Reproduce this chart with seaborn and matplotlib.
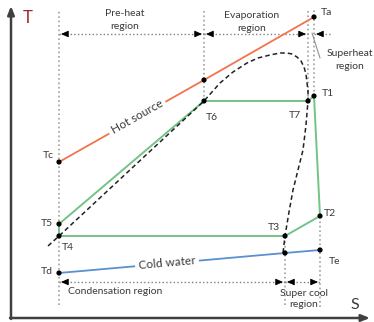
import matplotlib
matplotlib.use("Agg")
import matplotlib.pyplot as plt
import seaborn as sns

# T-s diagram, units are just drawing units (S right, T up)
hot_S = [59, 204, 314]
hot_T = [160, 242, 305]

cycle_S = [59, 59, 204, 308, 314, 320, 285, 59]
cycle_T = [86, 98, 221, 221, 226, 106, 86, 86]

cold_S = [59, 285, 320]
cold_T = [49, 69, 72]

dome_S = [48, 59, 204, 212, 220, 233, 247, 258, 270, 280, 287, 292, 297, 301, 304,
          306, 307, 308, 308, 306, 303, 298, 293, 289, 285, 283]
dome_T = [76, 86, 221, 230, 239, 250, 259, 264, 267, 269, 269, 268, 265, 261, 255,
          248, 239, 232, 221, 197, 172, 152, 132, 110, 86, 69]

dot_S = [59, 204, 314, 204, 308, 314, 320, 285, 59, 59, 59, 285, 320]
dot_T = [160, 242, 305, 221, 221, 226, 106, 86, 86, 98, 49, 69, 72]
dot_names = ["Tc", "", "Ta", "T6", "T7", "T1", "T2", "T3", "T4", "T5", "Td", "", "Te"]

guide_S = [59, 204, 308, 314, 285, 320]
guide_top = [312, 312, 312, 312, 86, 106]
guide_bot = [17, 221, 221, 226, 17, 15]

regions_top = ["Pre-heat\nregion", "Evaporation\nregion"]
regions_bot = ["Condensation region", "Super cool\nregion"]

sns.set_style("white")
plt.rcParams['font.family'] = ['Lato', 'DejaVu Sans']

txt = '#3a3a3a'
fig = plt.figure(figsize=(3.74, 3.22), dpi=100)
ax = fig.add_axes([0, 0, 1, 1])
ax.set_xlim(0, 374)
ax.set_ylim(0, 322)
ax.axis('off')

# axes arrows
ax.annotate('', xy=(11, 316), xytext=(11, 3),
            arrowprops=dict(arrowstyle='-|>,head_length=0.5,head_width=0.2', color='#404040', lw=1.8,
                            shrinkA=0, shrinkB=0))
ax.annotate('', xy=(370, 4), xytext=(10, 4),
            arrowprops=dict(arrowstyle='-|>,head_length=0.5,head_width=0.2', color='#404040', lw=1.8,
                            shrinkA=0, shrinkB=0))
ax.text(28, 304, "T", color='#9b2a2a', fontsize=12, ha='center', va='center')
ax.text(355, 17, "S", color=txt, fontsize=11.5, ha='center', va='center')

# dotted guides
for s, t0, t1 in zip(guide_S, guide_bot, guide_top):
    ax.plot([s, s], [t0, t1], ls=':', color='#a0a0a0', lw=1.2, zorder=1)


def head(x_tip, x_from, y):
    ax.annotate('', xy=(x_tip, y), xytext=(x_from, y),
                arrowprops=dict(arrowstyle='-|>,head_length=0.45,head_width=0.2',
                                color='black', lw=0.6, shrinkA=0, shrinkB=0))


def span(x0, x1, y):
    ax.plot([x0, x1], [y, y], ls=':', color='#808080', lw=1.0, zorder=1)
    head(x0 + 2, x0 + 8, y)
    head(x1 - 2, x1 - 8, y)


span(59, 204, 288)
span(204, 308, 288)
ax.plot([314, 332], [288, 288], ls=':', color='#808080', lw=1.0)
head(316, 322, 288)
ax.plot([312, 320], [289, 264], color='#909090', lw=0.8)
span(59, 285, 40)
span(285, 320, 40)

fs = 7.5
ax.text(125, 302, regions_top[0], ha='center', va='center', fontsize=fs, color=txt, linespacing=1.5)
ax.text(252, 300, regions_top[1], ha='center', va='center', fontsize=fs, color=txt, linespacing=1.5)
ax.text(350, 262, "Superheat\nregion", ha='center', va='center', fontsize=fs, color=txt, linespacing=1.5)
ax.text(68, 30, regions_bot[0], ha='left', va='center', fontsize=fs, color=txt)
ax.text(304, 23, regions_bot[1], ha='center', va='center', fontsize=fs, color=txt, linespacing=1.4)

# process lines
sns.lineplot(x=hot_S, y=hot_T, sort=False, estimator=None, color='#f4734a', lw=1.3, ax=ax)
sns.lineplot(x=cycle_S, y=cycle_T, sort=False, estimator=None, color='#72c486', lw=1.4, ax=ax)
sns.lineplot(x=cold_S, y=cold_T, sort=False, estimator=None, color='#5b8fd0', lw=1.3, ax=ax)
sns.lineplot(x=dome_S, y=dome_T, sort=False, estimator=None, color='#222222', lw=1.1,
             ax=ax, linestyle=(0, (3, 2)))

ax.text(137, 205, "Hot source", rotation=29.6, rotation_mode='anchor', ha='center', va='center',
        fontsize=8.5, color=txt, bbox=dict(facecolor='white', edgecolor='none', pad=2.5))
ax.text(167, 59, "Cold water", rotation=5, rotation_mode='anchor', ha='center', va='center',
        fontsize=8.5, color=txt, bbox=dict(facecolor='white', edgecolor='none', pad=2.5))

sns.scatterplot(x=dot_S, y=dot_T, color='black', s=14, edgecolor='none', ax=ax, zorder=5)

label_off = {"Tc": (-11, 7), "Ta": (12, 5), "T6": (8, -16), "T7": (-13, -14), "T1": (14, 3),
             "T2": (10, 3), "T3": (-11, 9), "T4": (9, -11), "T5": (-12, 1), "Td": (-12, 2),
             "Te": (15, -11)}
for s, t, n in zip(dot_S, dot_T, dot_names):
    if n:
        dx, dy = label_off[n]
        ax.text(s + dx, t + dy, n, ha='center', va='center', fontsize=7.5, color=txt)

fig.savefig("out.png", dpi=100)
